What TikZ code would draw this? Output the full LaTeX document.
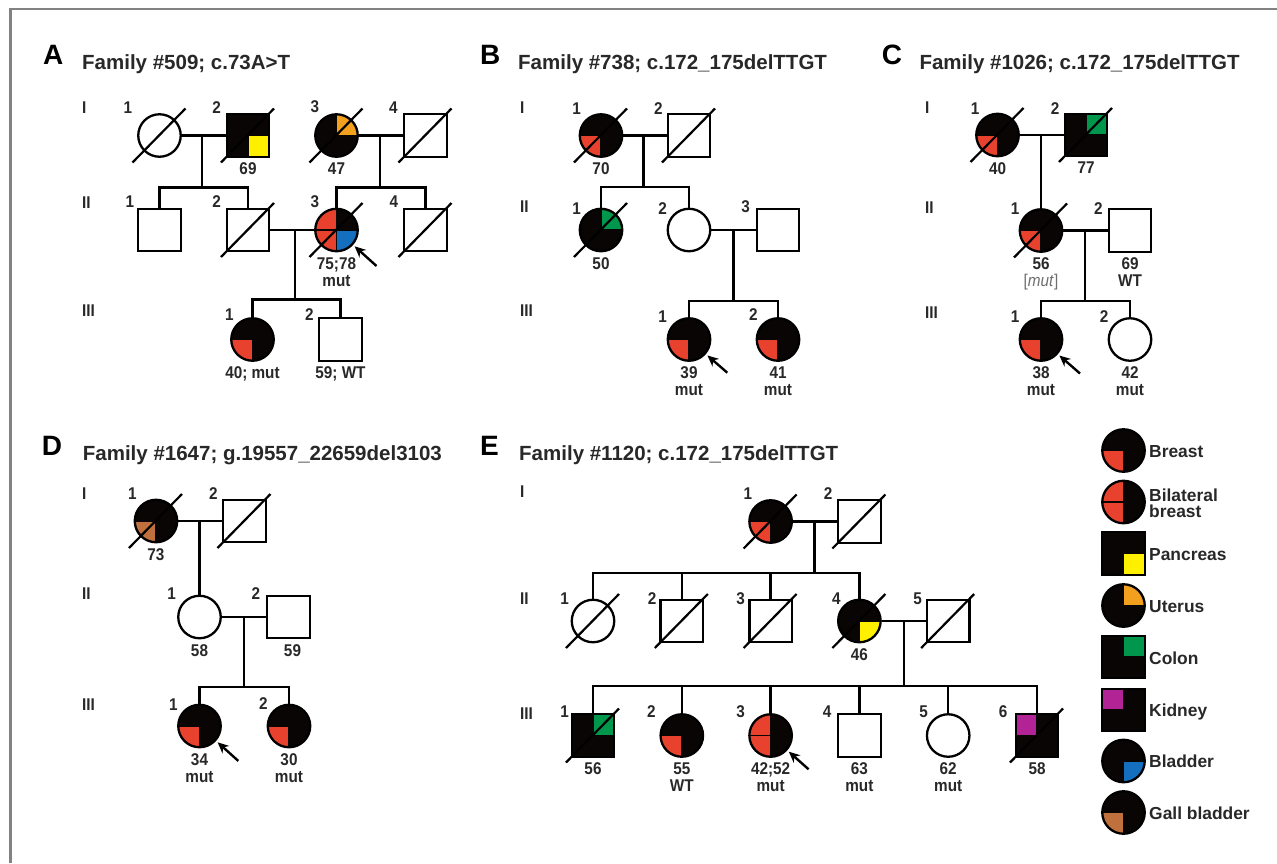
\documentclass[tikz,border=0pt]{standalone}
\usepackage{fontspec}
\setmainfont{Liberation Sans}
\newfontfamily\cnd[FakeStretch=0.9]{Liberation Sans}
\usetikzlibrary{calc,arrows.meta}
\definecolor{cR}{RGB}{232,66,46}
\definecolor{cY}{RGB}{255,240,0}
\definecolor{cO}{RGB}{243,160,30}
\definecolor{cG}{RGB}{0,150,75}
\definecolor{cM}{RGB}{178,36,150}
\definecolor{cB}{RGB}{20,112,190}
\definecolor{cN}{RGB}{192,112,60}
\definecolor{cT}{RGB}{40,40,40}
\definecolor{cF}{RGB}{130,130,130}
\definecolor{cMut}{RGB}{110,110,110}
\definecolor{blk}{RGB}{10,5,5}
\newcommand\quadr[2]{\filldraw[fill=#2,draw=blk,line width=1.5pt] (path picture bounding box.center) rectangle (path picture bounding box.#1);}
\newcommand\dead[1]{\draw[sline] ($(#1.center)+(-27,27)$) -- ($(#1.center)+(26,-27)$);}
\newcommand\agelab[3]{\node[agel] (#1) at ($(#2.center)+(0,27)$) {#3};}
\newcommand\prob[2]{\coordinate (#1t) at ($(#1.center)+#2$); \draw[parrow] (#1t) -- (#1);}
\tikzset{
 sym/.style={draw=black,line width=2.3pt,inner sep=0pt,minimum size=42.5pt,fill=white},
 fem/.style={sym,circle},
 mal/.style={sym,rectangle},
 aff/.style={fill=blk},
 breast/.style={aff,path picture={\quadr{south west}{cR}}},
 bilat/.style={aff,path picture={\quadr{south west}{cR}\quadr{north west}{cR}}},
 pancreas/.style={aff,path picture={\quadr{south east}{cY}}},
 uterus/.style={aff,path picture={\quadr{north east}{cO}}},
 colon/.style={aff,path picture={\quadr{north east}{cG}}},
 kidney/.style={aff,path picture={\quadr{north west}{cM}}},
 bladder/.style={aff,path picture={\quadr{south east}{cB}}},
 gall/.style={aff,path picture={\quadr{south west}{cN}}},
 ln/.style={line width=2.4pt,draw=black},
 sline/.style={line width=2.2pt,draw=black},
 parrow/.style={line width=2.4pt,-{Stealth[length=11pt,width=10pt]},shorten >=2pt},
 idn/.style={font=\cnd\bfseries\fontsize{17}{17}\selectfont,text=cT,inner sep=0pt},
 agel/.style={font=\cnd\bfseries\fontsize{17}{17}\selectfont,text=cT,inner sep=0pt,anchor=north,align=center},
 gen/.style={font=\cnd\bfseries\fontsize{17}{17}\selectfont,text=cT,inner sep=0pt,anchor=west},
 plet/.style={font=\bfseries\fontsize{28}{30}\selectfont,text=black,inner sep=0pt,anchor=base west},
 ttl/.style={font=\bfseries\fontsize{20.5}{24}\selectfont,text=cT,inner sep=0pt,anchor=base west},
 leg/.style={font=\bfseries\fontsize{17.4}{15.7}\selectfont,text=cT,inner sep=0pt,anchor=west,align=left},
}
\begin{document}
\begin{tikzpicture}[x=1pt,y=-1pt]
\useasboundingbox (0,0) rectangle (1277,863);
\fill[white] (0,0) rectangle (1277,863);
\draw[cF,line width=2.8pt] (10.5,863) -- (10.5,9) -- (1277,9);

% ---------------- Panel A ----------------
\node[plet] (Alet) at (43,64.3) {A};
\node[ttl] (Attl) at (82,69.5) {Family \#509; c.73A>T};
\node[gen] (Ag1) at (82,108) {I};
\node[gen] (Ag2) at (82,203) {II};
\node[gen] (Ag3) at (82,311) {III};
\node[fem] (a11) at (159.5,135.5) {};
\node[mal,pancreas] (a12) at (248,135.5) {};
\node[fem,uterus] (a13) at (336.5,135.5) {};
\node[mal] (a14) at (425.5,135.5) {};
\node[mal] (a21) at (159.5,230) {};
\node[mal] (a22) at (248,230) {};
\node[fem,aff,path picture={\quadr{north west}{cR}\quadr{south west}{cR}\quadr{south east}{cB}}] (a23) at (336.5,230) {};
\node[mal] (a24) at (425.5,230) {};
\node[fem,breast] (a31) at (252.5,339.5) {};
\node[mal] (a32) at (340.5,339.5) {};
\dead{a11}\dead{a12}\dead{a13}\dead{a14}\dead{a22}\dead{a23}\dead{a24}
\draw[ln] (a11) -- (a12); \draw[ln] (a13) -- (a14); \draw[ln] (a22) -- (a23);
\coordinate (am1) at (201.7,135.5); \coordinate (as1) at (201.7,187.3);
\draw[ln] (am1) -- (as1); \draw[ln] (a21) |- (as1) -| (a22);
\coordinate (am2) at (380,135.5); \coordinate (as2) at (380,187.3);
\draw[ln] (am2) -- (as2); \draw[ln] (a23) |- (as2) -| (a24);
\coordinate (am3) at (295,230); \coordinate (as3) at (295,299.3);
\draw[ln] (am3) -- (as3); \draw[ln] (a31) |- (as3) -| (a32);
\node[idn] (a11n) at (128,108) {1};
\node[idn] (a12n) at (216.7,108) {2};
\node[idn] (a13n) at (315,107) {3};
\node[idn] (a14n) at (393.3,108) {4};
\node[idn] (a21n) at (130,201.7) {1};
\node[idn] (a22n) at (216.7,201.7) {2};
\node[idn] (a23n) at (315,201.7) {3};
\node[idn] (a24n) at (394,201.7) {4};
\node[idn] (a31n) at (229.3,315) {1};
\node[idn] (a32n) at (309.3,315) {2};
\agelab{a12a}{a12}{69}
\agelab{a13a}{a13}{47}
\agelab{a23a}{a23}{75;78\\mut}
\agelab{a31a}{a31}{40; mut}
\agelab{a32a}{a32}{59; WT}
\prob{a23}{(40,36)}

% ---------------- Panel B ----------------
\node[plet] (Blet) at (480,64.3) {B};
\node[ttl] (Bttl) at (518,69.5) {Family \#738; c.172\_175delTTGT};
\node[gen] (Bg1) at (520,108) {I};
\node[gen] (Bg2) at (520,207) {II};
\node[gen] (Bg3) at (520,311) {III};
\node[fem,breast] (b11) at (601,135.5) {};
\node[mal] (b12) at (689,135.5) {};
\node[fem,colon] (b21) at (601,230) {};
\node[fem] (b22) at (689,230) {};
\node[mal] (b23) at (778,230) {};
\node[fem,breast] (b31) at (689,339.5) {};
\node[fem,breast] (b32) at (778,339.5) {};
\dead{b11}\dead{b12}\dead{b21}
\draw[ln] (b11) -- (b12); \draw[ln] (b22) -- (b23);
\coordinate (bm1) at (643.3,135.5); \coordinate (bs1) at (643.3,186.7);
\draw[ln] (bm1) -- (bs1); \draw[ln] (b21) |- (bs1) -| (b22);
\coordinate (bm2) at (733.3,230); \coordinate (bs2) at (733.3,300.7);
\draw[ln] (bm2) -- (bs2); \draw[ln] (b31) |- (bs2) -| (b32);
\node[idn] (b11n) at (576.7,108.3) {1};
\node[idn] (b12n) at (658.3,108.3) {2};
\node[idn] (b21n) at (576.7,208.3) {1};
\node[idn] (b22n) at (662.7,208.3) {2};
\node[idn] (b23n) at (745.7,206.7) {3};
\node[idn] (b31n) at (662.7,316.7) {1};
\node[idn] (b32n) at (753.3,315) {2};
\agelab{b11a}{b11}{70}
\agelab{b21a}{b21}{50}
\agelab{b31a}{b31}{39\\mut}
\agelab{b32a}{b32}{41\\mut}
\prob{b31}{(38.3,33.2)}

% ---------------- Panel C ----------------
\node[plet] (Clet) at (881.7,64.3) {C};
\node[ttl] (Cttl) at (919.3,69.5) {Family \#1026; c.172\_175delTTGT};
\node[gen] (Cg1) at (925,108) {I};
\node[gen] (Cg2) at (925,208) {II};
\node[gen] (Cg3) at (925,313) {III};
\node[fem,breast] (c11) at (997.5,135) {};
\node[mal,colon] (c12) at (1086,135) {};
\node[fem,breast] (c21) at (1041,230.5) {};
\node[mal] (c22) at (1130,230.5) {};
\node[fem,breast] (c31) at (1041,339.5) {};
\node[fem] (c32) at (1130,339.5) {};
\dead{c11}\dead{c12}\dead{c21}
\draw[ln] (c11) -- (c12); \draw[ln] (c21) -- (c22);
\coordinate (cm1) at (1041,135);
\draw[ln] (cm1) -- (c21);
\coordinate (cm2) at (1085,230.5); \coordinate (cs2) at (1085,300.7);
\draw[ln] (cm2) -- (cs2); \draw[ln] (c31) |- (cs2) -| (c32);
\node[idn] (c11n) at (975,108.3) {1};
\node[idn] (c12n) at (1055,108.3) {2};
\node[idn] (c21n) at (1015,208.3) {1};
\node[idn] (c22n) at (1098.3,208.3) {2};
\node[idn] (c31n) at (1015,316.7) {1};
\node[idn] (c32n) at (1104,316.7) {2};
\agelab{c11a}{c11}{40}
\agelab{c12a}{c12}{77}
\agelab{c21a}{c21}{56\\{\mdseries\color{cMut}[\textit{mut}]}}
\agelab{c22a}{c22}{69\\WT}
\agelab{c31a}{c31}{38\\mut}
\agelab{c32a}{c32}{42\\mut}
\prob{c31}{(39,34)}

% ---------------- Panel D ----------------
\node[plet] (Dlet) at (41.7,455) {D};
\node[ttl] (Dttl) at (82.7,460.7) {Family \#1647; g.19557\_22659del3103};
\node[gen] (Dg1) at (82,493.3) {I};
\node[gen] (Dg2) at (82,593.3) {II};
\node[gen] (Dg3) at (82,705) {III};
\node[fem,gall] (d11) at (156,521) {};
\node[mal] (d12) at (244.5,521) {};
\node[fem] (d21) at (199.5,617) {};
\node[mal] (d22) at (288.5,617) {};
\node[fem,breast] (d31) at (199.5,726) {};
\node[fem,breast] (d32) at (289,726) {};
\dead{d11}\dead{d12}
\draw[ln] (d11) -- (d12); \draw[ln] (d21) -- (d22);
\coordinate (dm1) at (199.5,521);
\draw[ln] (dm1) -- (d21);
\coordinate (dm2) at (244,617); \coordinate (ds2) at (244,686.7);
\draw[ln] (dm2) -- (ds2); \draw[ln] (d31) |- (ds2) -| (d32);
\node[idn] (d11n) at (132.3,493.3) {1};
\node[idn] (d12n) at (213.3,493.3) {2};
\node[idn] (d21n) at (171.7,593.3) {1};
\node[idn] (d22n) at (256,593.3) {2};
\node[idn] (d31n) at (173.3,705) {1};
\node[idn] (d32n) at (263.3,703.3) {2};
\agelab{d11a}{d11}{73}
\agelab{d21a}{d21}{58}
\node[agel] (d22a) at ($(d22.center)+(4,27)$) {59};
\agelab{d31a}{d31}{34\\mut}
\agelab{d32a}{d32}{30\\mut}
\prob{d31}{(38.8,34.9)}

% ---------------- Panel E ----------------
\node[plet] (Elet) at (480,455) {E};
\node[ttl] (Ettl) at (519,460.7) {Family \#1120; c.172\_175delTTGT};
\node[gen] (Eg1) at (520,491.7) {I};
\node[gen] (Eg2) at (520,598.3) {II};
\node[gen] (Eg3) at (520,713.3) {III};
\node[fem,breast] (e11) at (770.6,521.5) {};
\node[mal] (e12) at (859.4,521.5) {};
\node[fem] (e21) at (593,621) {};
\node[mal] (e22) at (681.8,621) {};
\node[mal] (e23) at (770.6,621) {};
\node[fem,pancreas] (e24) at (859.4,621) {};
\node[mal] (e25) at (948.2,621) {};
\node[mal,colon] (e31) at (593,735.5) {};
\node[fem,breast] (e32) at (681.8,735.5) {};
\node[fem,bilat] (e33) at (770.6,735.5) {};
\node[mal] (e34) at (859.4,735.5) {};
\node[fem] (e35) at (948.2,735.5) {};
\node[mal,kidney] (e36) at (1037,735.5) {};
\dead{e11}\dead{e12}\dead{e21}\dead{e22}\dead{e23}\dead{e24}\dead{e25}\dead{e31}\dead{e36}
\draw[ln] (e11) -- (e12); \draw[ln] (e24) -- (e25);
\coordinate (em1) at (814.6,521.5); \coordinate (es1) at (814.6,572.7);
\draw[ln] (em1) -- (es1); \draw[ln] (e21) |- (es1) -| (e24);
\draw[ln] (e22) -- (e22 |- es1); \draw[ln] (e23) -- (e23 |- es1);
\coordinate (em2) at (903.8,621); \coordinate (es2) at (903.8,686);
\draw[ln] (em2) -- (es2); \draw[ln] (e31) |- (es2) -| (e36);
\draw[ln] (e32) -- (e32 |- es2); \draw[ln] (e33) -- (e33 |- es2);
\draw[ln] (e34) -- (e34 |- es2); \draw[ln] (e35) -- (e35 |- es2);
\node[idn] (e11n) at (747.9,493.3) {1};
\node[idn] (e12n) at (828.2,493.3) {2};
\node[idn] (e21n) at (564.6,598.3) {1};
\node[idn] (e22n) at (652,598.3) {2};
\node[idn] (e23n) at (740.7,598.3) {3};
\node[idn] (e24n) at (836.4,598.3) {4};
\node[idn] (e25n) at (917.5,598.3) {5};
\node[idn] (e31n) at (564.6,711.7) {1};
\node[idn] (e32n) at (651.4,711.7) {2};
\node[idn] (e33n) at (740.7,711.7) {3};
\node[idn] (e34n) at (827,711.7) {4};
\node[idn] (e35n) at (923.6,711.7) {5};
\node[idn] (e36n) at (1003.2,711.7) {6};
\agelab{e24a}{e24}{46}
\agelab{e31a}{e31}{56}
\agelab{e32a}{e32}{55\\WT}
\agelab{e33a}{e33}{42;52\\mut}
\agelab{e34a}{e34}{63\\mut}
\agelab{e35a}{e35}{62\\mut}
\agelab{e36a}{e36}{58}
\prob{e33}{(38,33.8)}

% ---------------- Legend ----------------
\node[fem,breast] (l1) at (1123.5,450.5) {};
\node[fem,bilat] (l2) at (1123.5,502) {};
\node[mal,pancreas] (l3) at (1123.5,553.5) {};
\node[fem,uterus] (l4) at (1123.5,605.5) {};
\node[mal,colon] (l5) at (1123.5,657) {};
\node[mal,kidney] (l6) at (1123.5,710) {};
\node[fem,bladder] (l7) at (1123.5,761) {};
\node[fem,gall] (l8) at (1123.5,812.5) {};
\node[leg] (l1t) at (1149,451.7) {Breast};
\node[leg] (l2t) at (1149,503) {Bilateral\\breast};
\node[leg] (l3t) at (1149,555) {Pancreas};
\node[leg] (l4t) at (1149,606.7) {Uterus};
\node[leg] (l5t) at (1149,658.3) {Colon};
\node[leg] (l6t) at (1149,711.7) {Kidney};
\node[leg] (l7t) at (1149,761.7) {Bladder};
\node[leg] (l8t) at (1149,813.3) {Gall bladder};
\end{tikzpicture}
\end{document}
